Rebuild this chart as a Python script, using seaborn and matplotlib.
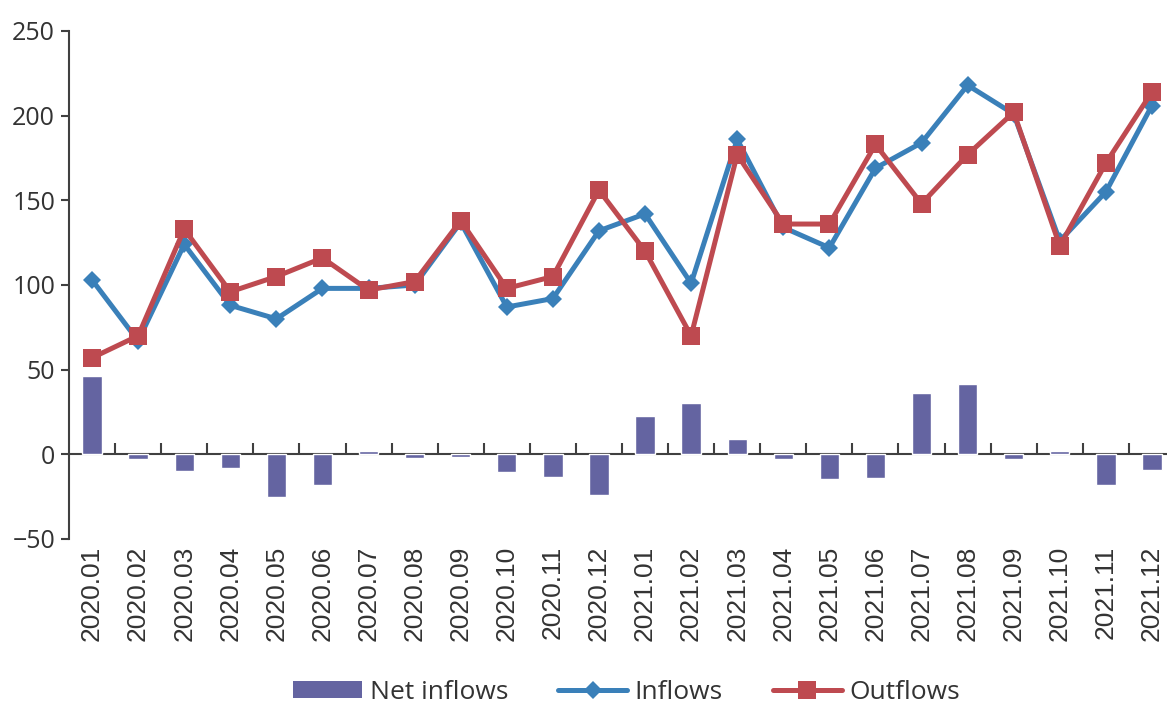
import matplotlib
matplotlib.use("Agg")
import matplotlib.pyplot as plt
import seaborn as sns
import pandas as pd
from matplotlib.lines import Line2D
from matplotlib.patches import Patch

months = ["2020.01", "2020.02", "2020.03", "2020.04", "2020.05", "2020.06",
          "2020.07", "2020.08", "2020.09", "2020.10", "2020.11", "2020.12",
          "2021.01", "2021.02", "2021.03", "2021.04", "2021.05", "2021.06",
          "2021.07", "2021.08", "2021.09", "2021.10", "2021.11", "2021.12"]
inflows = [103, 67, 124, 88, 80, 98, 98, 100, 137, 87, 92, 132,
           142, 101, 186, 134, 122, 169, 184, 218, 201, 126, 155, 206]
outflows = [57, 70, 133, 96, 105, 116, 97, 102, 138, 98, 105, 156,
            120, 70, 177, 136, 136, 183, 148, 177, 202, 123, 172, 214]
net_inflows = [46, -3, -10, -8, -25, -18, 2, -2, -1.5, -10.5, -13.5, -24,
               22.5, 30.5, 9, -2.5, -14.5, -14, 36, 41.5, -2.5, 2, -18, -9]

yticks = [-50, 0, 50, 100, 150, 200, 250]

df = pd.DataFrame({"month": months, "Inflows": inflows,
                   "Outflows": outflows, "Net inflows": net_inflows})

BAR = "#6464A1"
BLUE = "#3A80B9"
RED = "#BE4A50"
AXC = "#404040"
TXT = "#333333"

sns.set_style("white")
plt.rcParams["font.family"] = ["Open Sans", "DejaVu Sans"]

fig = plt.figure(figsize=(11.67, 7.05), dpi=100)
ax = fig.add_axes([69 / 1167, 1 - 539 / 705, 1106 / 1167, 508 / 705])

sns.barplot(data=df, x="month", y="Net inflows", color=BAR, saturation=1,
            width=0.42, ax=ax, zorder=2)
sns.lineplot(data=df, x="month", y="Inflows", color=BLUE, lw=3.6,
             marker="D", markersize=9, markeredgewidth=0, ax=ax, zorder=3)
sns.lineplot(data=df, x="month", y="Outflows", color=RED, lw=3.6,
             marker="s", markersize=13, markeredgewidth=0, ax=ax, zorder=4)

ax.set_xlim(-0.5, len(months) - 0.5)
ax.set_ylim(-50, 250)
ax.set_yticks(yticks)
ax.set_yticklabels([str(v).replace("-", "\u2212") for v in yticks])
ax.set_xlabel("")
ax.set_ylabel("")

for s in ["top", "right", "bottom"]:
    ax.spines[s].set_visible(False)
ax.spines["left"].set_color(AXC)
ax.spines["left"].set_linewidth(1.5)
ax.tick_params(axis="y", direction="out", length=6, width=1.5, color=AXC,
               labelsize=18, labelcolor=TXT, pad=4, left=True)
ax.tick_params(axis="x", length=0, pad=5, labelrotation=90, labelcolor=TXT,
               bottom=True)
for lab in ax.get_xticklabels():
    lab.set_fontfamily(["Liberation Sans", "DejaVu Sans"])
    lab.set_fontsize(19)

# zero line with boundary ticks
sec = ax.secondary_xaxis(50 / 300)
sec.set_xticks([i + 0.5 for i in range(len(months) - 1)])
sec.set_xticklabels([])
sec.spines["bottom"].set_color(AXC)
sec.spines["bottom"].set_linewidth(1.5)
sec.tick_params(axis="x", direction="in", length=8, width=1.5, color=AXC)

handles = [
    Patch(facecolor=BAR, edgecolor="none", label="Net inflows"),
    Line2D([], [], color=BLUE, lw=3.6, marker="D", markersize=9,
           markeredgewidth=0, label="Inflows"),
    Line2D([], [], color=RED, lw=3.6, marker="s", markersize=13,
           markeredgewidth=0, label="Outflows"),
]
fig.legend(handles=handles, loc="center", bbox_to_anchor=(0.537, 0.018),
           ncol=3, frameon=False, fontsize=19, handlelength=2.6,
           handleheight=0.6, handletextpad=0.3, columnspacing=1.9,
           labelcolor=TXT, borderaxespad=0)

fig.savefig("out.png", dpi=100)
